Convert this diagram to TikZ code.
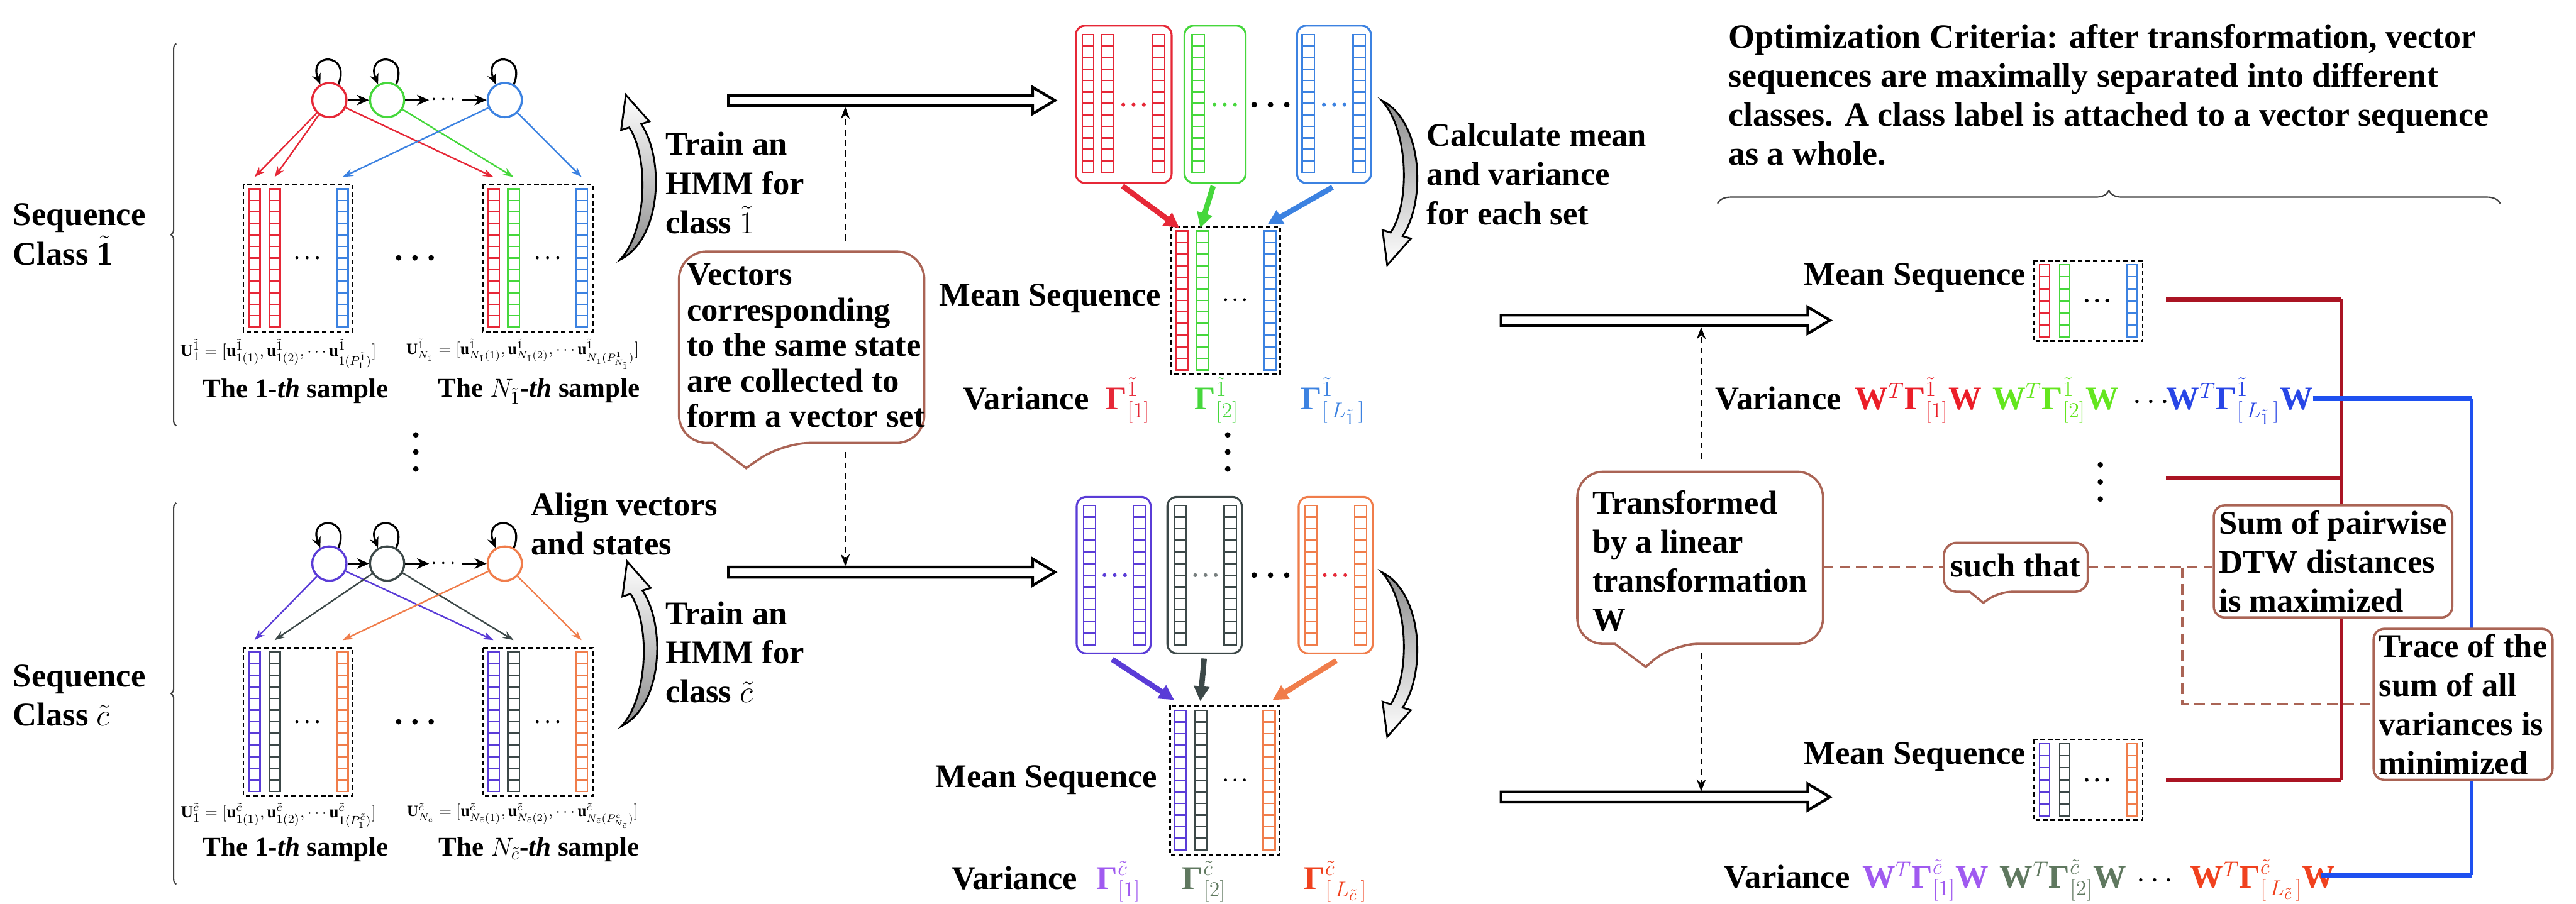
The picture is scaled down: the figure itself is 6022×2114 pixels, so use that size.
\documentclass[tikz,border=0pt]{standalone}
\usepackage{fontspec}
\setmainfont{Liberation Serif}
\usepackage{amsmath}
\usetikzlibrary{arrows.meta,decorations.pathreplacing,calc}

\definecolor{cR}{RGB}{230,40,55}
\definecolor{cG}{RGB}{70,215,60}
\definecolor{cB}{RGB}{60,130,225}
\definecolor{cP}{RGB}{90,60,215}
\definecolor{cK}{RGB}{60,72,72}
\definecolor{cO}{RGB}{240,125,75}
\definecolor{brn}{RGB}{170,100,85}
\definecolor{dred}{RGB}{170,20,35}
\definecolor{lblue}{RGB}{30,80,240}
\definecolor{vR}{RGB}{235,30,40}
\definecolor{vG}{RGB}{100,230,30}
\definecolor{vB}{RGB}{40,70,230}
\definecolor{vP}{RGB}{160,90,240}
\definecolor{vK}{RGB}{95,120,95}
\definecolor{vO}{RGB}{240,65,30}

\newcommand{\Gam}{\text{\bfseries Γ}}

\tikzset{
  colline/.style={line width=1pt},
  lab/.style={font=\fontsize{22}{26}\selectfont\bfseries, inner sep=0pt},
  olab/.style={font=\fontsize{22.6}{26}\selectfont\bfseries, inner sep=0pt},
  clab/.style={font=\fontsize{22}{23.6}\selectfont\bfseries, inner sep=0pt, align=left},
  slab/.style={font=\fontsize{18}{20}\selectfont\bfseries, inner sep=0pt},
  ulab/.style={font=\fontsize{10.5}{12}\selectfont, inner sep=0pt},
  ulabb/.style={font=\fontsize{11.3}{12}\selectfont, inner sep=0pt},
  st/.style={circle, minimum size=0.8cm, line width=1.4pt, inner sep=0pt},
  loopar/.style={line width=1.3pt, -{Stealth[length=7pt,width=6pt]}},
  hmmar/.style={line width=1.6pt, -{Stealth[length=8pt,width=7pt]}},
  emar/.style={line width=1pt, -{Stealth[length=7pt,width=5pt]}},
  dbox/.style={line width=1.2pt, dash pattern=on 3pt off 2pt},
  setbox/.style={line width=1.3pt, rounded corners=0.22cm},
  meanar/.style={line width=3.6pt, -{Triangle[length=10pt,width=10pt]}},
  blockar/.style={line width=1.8pt, fill=white, line join=miter},
  curvar/.style={line width=1.2pt, line join=miter},
  vdash/.style={line width=1pt, dash pattern=on 4pt off 3pt, -{Stealth[length=8pt,width=6pt]}},
  brdash/.style={brn, line width=1.6pt, dash pattern=on 7pt off 4pt},
  cobord/.style={brn, line width=1.5pt},
  brc/.style={line width=0.9pt, black!75, decorate},
}

% column of cells: name, x1, x2, ytop, ybot, ncells, colour
\newcommand{\vcol}[7]{%
  \draw[colline,#7] (#2,#4) rectangle (#3,#5);
  \pgfmathsetmacro{\cellh}{(#5-#4)/#6}
  \foreach \k in {1,...,#6}{\ifnum\k<#6 \draw[colline,#7] (#2,{#4+\k*\cellh}) -- (#3,{#4+\k*\cellh});\fi}
  \coordinate (#1) at ({(#2+#3)/2},{#4-28});
}
% three horizontal dots: x y spacing radius colour
\newcommand{\tdots}[5]{%
  \fill[#5] ({#1-#3},#2) circle[radius=#4] (#1,#2) circle[radius=#4] ({#1+#3},#2) circle[radius=#4];}
% three vertical dots
\newcommand{\vtdots}[3]{%
  \fill (#1,#2) circle[radius=6.5] (#1,{#2+40}) circle[radius=6.5] (#1,{#2+80}) circle[radius=6.5];}
% hollow block arrow: x1 x2 y
\newcommand{\blockarrow}[3]{%
  \draw[blockar] (#1,{#3-12}) -- ({#2-52},{#3-12}) -- ({#2-52},{#3-31}) -- (#2,#3) -- ({#2-52},{#3+31}) -- ({#2-52},{#3+12}) -- (#1,{#3+12}) -- cycle;}
% curved tapering arrow: cx cy s shading
\newcommand{\curv}[4]{%
  \draw[curvar,#4] ({#1-20},{#2+(#3)*192}) .. controls ({#1+75},{#2+(#3)*145}) and ({#1+85},{#2-(#3)*40}) .. ({#1+29},{#2-(#3)*125})
    -- ({#1+48},{#2-(#3)*131}) -- ({#1-7},{#2-(#3)*193}) -- ({#1-18},{#2-(#3)*111}) -- ({#1+1},{#2-(#3)*117})
    .. controls ({#1+48},{#2-(#3)*45}) and ({#1+42},{#2+(#3)*125}) .. cycle;}
% callout: name cx cy w h pa pb tipoffset radius
\newcommand{\callbox}[9]{%
  \node[minimum width=#4*0.01cm, minimum height=#5*0.01cm, inner sep=0pt] (#1) at (#2,#3) {};
  \draw[cobord] ($(#1.south west)+(#6,0)$) [rounded corners=#9] -- (#1.south west) -- (#1.north west) -- (#1.north east) -- (#1.south east) -- ($(#1.south west)+(#7,0)$) [sharp corners] -- ($(#1.south west)+#8$) -- cycle;}

\begin{document}
\begin{tikzpicture}[x=0.01cm, y=-0.01cm]
\useasboundingbox (0,0) rectangle (6022,2114);
\fill[white] (0,0) rectangle (6022,2114);

% ================= LEFT: class 1 =================
\draw[brc, decoration={brace, amplitude=0.12cm}] (412,996) -- (412,102);
\node[lab, align=left, anchor=west] (seq1) at (30,548) {Sequence\\Class $\tilde{\mathbf{1}}$};

\node[st, draw=cR] (r1) at (770,234) {};
\node[st, draw=cG] (g1) at (905,234) {};
\node[inner sep=1pt, font=\fontsize{14}{14}\selectfont] (rd1) at (1041,234) {$\cdots$};
\node[st, draw=cB] (b1) at (1180,234) {};
\foreach \n in {r1,g1,b1}{\draw[loopar] (\n.60) .. controls +(30,-75) and +(-30,-75) .. (\n.120);}
\draw[hmmar] (r1) -- (g1);
\draw[hmmar] (g1) -- (rd1);
\draw[hmmar] (rd1) -- (b1);

\draw[dbox] (569,431) rectangle (824,775);
\draw[dbox] (1128,431) rectangle (1386,775);
\vcol{s1a}{582}{608}{442}{765}{12}{cR}
\vcol{s1b}{629}{655}{442}{765}{12}{cR}
\vcol{s1c}{788}{814}{442}{765}{12}{cB}
\vcol{s2a}{1140}{1167}{442}{765}{12}{cR}
\vcol{s2b}{1187}{1214}{442}{765}{12}{cG}
\vcol{s2c}{1346}{1373}{442}{765}{12}{cB}
\tdots{718}{603}{24}{3.5}{black}
\tdots{1280}{603}{24}{3.5}{black}
\tdots{970}{603}{38}{6.5}{black}

\draw[emar, cR] (r1) -- (s1a);
\draw[emar, cR] (r1) -- (s1b);
\draw[emar, cR] (r1) -- (s2a);
\draw[emar, cG] (g1) -- (s2b);
\draw[emar, cB] (b1) -- (s1c);
\draw[emar, cB] (b1) -- (s2c);

\node[ulabb] (u1) at (651,828) {$\mathbf{U}^{\tilde 1}_1=[\mathbf{u}^{\tilde 1}_{1(1)},\mathbf{u}^{\tilde 1}_{1(2)},\cdots\mathbf{u}^{\tilde 1}_{1(P^{\tilde 1}_1)}]$};
\node[ulab] (u2) at (1222,828) {$\mathbf{U}^{\tilde 1}_{N_{\tilde 1}}=[\mathbf{u}^{\tilde 1}_{N_{\tilde 1}(1)},\mathbf{u}^{\tilde 1}_{N_{\tilde 1}(2)},\cdots\mathbf{u}^{\tilde 1}_{N_{\tilde 1}(P^{\tilde 1}_{N_{\tilde 1}})}]$};
\node[slab] (t1) at (691,915) {The 1-\textit{th} sample};
\node[slab] (t2) at (1260,915) {The $N_{\tilde 1}$-\textit{th} sample};

\vtdots{972}{1017}{}

% ================= LEFT: class c =================
\draw[brc, decoration={brace, amplitude=0.12cm}] (412,2068) -- (412,1176);
\node[lab, align=left, anchor=west] (seq2) at (30,1626) {Sequence\\Class $\tilde{c}$};

\node[st, draw=cP] (p2) at (770,1318) {};
\node[st, draw=cK] (k2) at (905,1318) {};
\node[inner sep=1pt, font=\fontsize{14}{14}\selectfont] (rd2) at (1041,1318) {$\cdots$};
\node[st, draw=cO] (o2) at (1180,1318) {};
\foreach \n in {p2,k2,o2}{\draw[loopar] (\n.60) .. controls +(30,-75) and +(-30,-75) .. (\n.120);}
\draw[hmmar] (p2) -- (k2);
\draw[hmmar] (k2) -- (rd2);
\draw[hmmar] (rd2) -- (o2);

\draw[dbox] (569,1515) rectangle (824,1861);
\draw[dbox] (1128,1515) rectangle (1386,1861);
\vcol{c1a}{582}{608}{1525}{1851}{12}{cP}
\vcol{c1b}{629}{655}{1525}{1851}{12}{cK}
\vcol{c1c}{788}{814}{1525}{1851}{12}{cO}
\vcol{c2a}{1140}{1167}{1525}{1851}{12}{cP}
\vcol{c2b}{1187}{1214}{1525}{1851}{12}{cK}
\vcol{c2c}{1346}{1373}{1525}{1851}{12}{cO}
\tdots{718}{1688}{24}{3.5}{black}
\tdots{1280}{1688}{24}{3.5}{black}
\tdots{970}{1688}{38}{6.5}{black}

\draw[emar, cP] (p2) -- (c1a);
\draw[emar, cP] (p2) -- (c2a);
\draw[emar, cK] (k2) -- (c1b);
\draw[emar, cK] (k2) -- (c2b);
\draw[emar, cO] (o2) -- (c1c);
\draw[emar, cO] (o2) -- (c2c);

\node[ulabb] (u3) at (651,1908) {$\mathbf{U}^{\tilde c}_1=[\mathbf{u}^{\tilde c}_{1(1)},\mathbf{u}^{\tilde c}_{1(2)},\cdots\mathbf{u}^{\tilde c}_{1(P^{\tilde c}_1)}]$};
\node[ulab] (u4) at (1222,1908) {$\mathbf{U}^{\tilde c}_{N_{\tilde c}}=[\mathbf{u}^{\tilde c}_{N_{\tilde c}(1)},\mathbf{u}^{\tilde c}_{N_{\tilde c}(2)},\cdots\mathbf{u}^{\tilde c}_{N_{\tilde c}(P^{\tilde c}_{N_{\tilde c}})}]$};
\node[slab] (t3) at (691,1986) {The 1-\textit{th} sample};
\node[slab] (t4) at (1260,1986) {The $N_{\tilde c}$-\textit{th} sample};

\node[lab, align=left, anchor=west] (align) at (1241,1225) {Align vectors\\and states};

% ================= curved arrows + texts =================
\curv{1470}{415}{1}{top color=white, bottom color=black!45}
\curv{1473}{1506}{1}{top color=white, bottom color=black!45}
\curv{3250}{427}{-1}{top color=black!45, bottom color=white}
\curv{3250}{1530}{-1}{top color=black!45, bottom color=white}

\node[lab, align=left, anchor=west] (train1) at (1555,428) {Train an\\HMM for\\class $\tilde{1}$};
\node[lab, align=left, anchor=west] (train2) at (1555,1525) {Train an\\HMM for\\class $\tilde{c}$};
\node[lab, align=left, anchor=west] (calc) at (3335,407) {Calculate mean\\and variance\\for each set};

% callout: vectors
\callbox{vcb}{1874}{812}{572}{446}{79}{242}{(157,59)}{0.65cm}
\node[clab, anchor=west] (vct) at (1605,808) {Vectors\\corresponding\\to the same state\\are collected to\\form a vector set};

\blockarrow{1703}{2466}{235}
\blockarrow{1703}{2466}{1338}
\coordinate (da1) at (1976,563); \coordinate (da2) at (1976,250);
\coordinate (db1) at (1976,1057); \coordinate (db2) at (1976,1324);
\draw[vdash] (da1) -- (da2);
\draw[vdash] (db1) -- (db2);

% ================= MIDDLE: sets for class 1 =================
\draw[setbox, cR] (2515,60) rectangle (2739,428);
\draw[setbox, cG] (2769,60) rectangle (2912,428);
\draw[setbox, cB] (3032,60) rectangle (3205,428);
\vcol{ta}{2530}{2557}{81}{403}{12}{cR}
\vcol{tb}{2575}{2603}{81}{403}{12}{cR}
\vcol{tc}{2695}{2723}{81}{403}{12}{cR}
\vcol{td}{2787}{2815}{81}{403}{12}{cG}
\vcol{te}{3044}{3073}{81}{403}{12}{cB}
\vcol{tf}{3163}{3192}{81}{403}{12}{cB}
\tdots{2650}{245}{24}{4.5}{cR}
\tdots{2863}{245}{24}{4.5}{cG}
\tdots{2970}{245}{38}{6.5}{black}
\tdots{3119}{245}{24}{4.5}{cB}

\draw[dbox] (2737,531) rectangle (2993,875);
\vcol{ma}{2749}{2777}{540}{865}{12}{cR}
\vcol{mb}{2796}{2824}{540}{865}{12}{cG}
\vcol{mc}{2956}{2984}{540}{865}{12}{cB}
\tdots{2887}{701}{22}{3.5}{black}
\coordinate (ra1) at (2624,435); \coordinate (ra2) at (2757,533);
\coordinate (ga1) at (2836,435); \coordinate (ga2) at (2806,533);
\coordinate (ba1) at (3115,438); \coordinate (ba2) at (2963,525);
\draw[meanar, cR] (ra1) -- (ra2);
\draw[meanar, cG] (ga1) -- (ga2);
\draw[meanar, cB] (ba1) -- (ba2);
\node[lab, anchor=east] (mean1) at (2715,698) {Mean Sequence};
\node[lab, anchor=base west] (var1) at (2251,958) {Variance};
\node[lab, anchor=base west, cR] (v11) at (2585,958) {$\Gam^{\tilde 1}_{[1]}$};
\node[lab, anchor=base west, cG] (v12) at (2792,958) {$\Gam^{\tilde 1}_{[2]}$};
\node[lab, anchor=base west, cB] (v13) at (3040,958) {$\Gam^{\tilde 1}_{[\,L_{\tilde 1}\,]}$};

\vtdots{2870}{1017}{}

% ================= MIDDLE: sets for class c =================
\draw[setbox, cP] (2517,1162) rectangle (2690,1528);
\draw[setbox, cK] (2729,1162) rectangle (2903,1528);
\draw[setbox, cO] (3036,1162) rectangle (3209,1528);
\vcol{ba}{2533}{2561}{1182}{1508}{12}{cP}
\vcol{bb}{2649}{2677}{1182}{1508}{12}{cP}
\vcol{bc}{2745}{2773}{1182}{1508}{12}{cK}
\vcol{bd}{2862}{2890}{1182}{1508}{12}{cK}
\vcol{be}{3050}{3078}{1182}{1508}{12}{cO}
\vcol{bf}{3167}{3195}{1182}{1508}{12}{cO}
\tdots{2606}{1345}{24}{4.5}{cP}
\tdots{2818}{1345}{24}{4.5}{cK!70}
\tdots{2970}{1345}{38}{6.5}{black}
\tdots{3121}{1345}{24}{4.5}{cR}

\draw[dbox] (2735,1650) rectangle (2991,1999);
\vcol{na}{2745}{2773}{1661}{1988}{12}{cP}
\vcol{nb}{2793}{2821}{1661}{1988}{12}{cK}
\vcol{nc}{2953}{2981}{1661}{1988}{12}{cO}
\tdots{2887}{1824}{22}{3.5}{black}
\coordinate (pa1) at (2600,1542); \coordinate (pa2) at (2745,1637);
\coordinate (ka1) at (2815,1540); \coordinate (ka2) at (2806,1640);
\coordinate (oa1) at (3124,1545); \coordinate (oa2) at (2975,1637);
\draw[meanar, cP] (pa1) -- (pa2);
\draw[meanar, cK] (ka1) -- (ka2);
\draw[meanar, cO] (oa1) -- (oa2);
\node[lab, anchor=east] (mean2) at (2706,1824) {Mean Sequence};
\node[lab, anchor=base west] (var2) at (2224,2079) {Variance};
\node[lab, anchor=base west, vP] (v21) at (2563,2079) {$\Gam^{\tilde c}_{[1]}$};
\node[lab, anchor=base west, vK] (v22) at (2763,2079) {$\Gam^{\tilde c}_{[2]}$};
\node[lab, anchor=base west, vO] (v23) at (3048,2079) {$\Gam^{\tilde c}_{[\,L_{\tilde c}\,]}$};

% ================= RIGHT =================
\node[olab, align=left, anchor=west] (opt) at (4040,222) {Optimization Criteria: after transformation, vector\\sequences are maximally separated into different\\classes. A class label is attached to a vector sequence\\as a whole.};
\draw[brc, decoration={brace, amplitude=0.3cm}] (4015,476) -- (5845,476);

\blockarrow{3509}{4278}{749}
\blockarrow{3509}{4278}{1864}

% transformed mean (class 1)
\node[lab, anchor=east] (mean3) at (4736,649) {Mean Sequence};
\draw[dbox] (4754,609) rectangle (5009,798);
\vcol{ra}{4768}{4791}{619}{788}{6}{cR}
\vcol{rb}{4815}{4838}{619}{788}{6}{cG}
\vcol{rc}{4973}{4996}{619}{788}{6}{cB}
\tdots{4902}{703}{24}{4.5}{black}
\node[lab, anchor=base west] (var3) at (4010,958) {Variance};
\node[lab, anchor=base west, vR] (w11) at (4336,958) {$\mathbf{W}^{T}\Gam^{\tilde 1}_{[1]}\mathbf{W}$};
\node[lab, anchor=base west, vG] (w12) at (4657,958) {$\mathbf{W}^{T}\Gam^{\tilde 1}_{[2]}\mathbf{W}$};
\node[lab, anchor=base west] (w1d) at (4985,958) {$\cdots$};
\node[lab, anchor=base west, vB] (w13) at (5064,958) {$\mathbf{W}^{T}\Gam^{\tilde 1}_{[\,L_{\tilde 1}\,]}\mathbf{W}$};

\vtdots{4910}{1087}{}

% transformed mean (class c)
\node[lab, anchor=east] (mean4) at (4736,1769) {Mean Sequence};
\draw[dbox] (4754,1729) rectangle (5009,1918);
\vcol{rd}{4768}{4791}{1739}{1908}{6}{cP}
\vcol{re}{4815}{4838}{1739}{1908}{6}{cK}
\vcol{rf}{4973}{4996}{1739}{1908}{6}{cO}
\tdots{4902}{1824}{24}{4.5}{black}
\node[lab, anchor=base west] (var4) at (4030,2076) {Variance};
\node[lab, anchor=base west, vP] (w21) at (4353,2076) {$\mathbf{W}^{T}\Gam^{\tilde c}_{[1]}\mathbf{W}$};
\node[lab, anchor=base west, vK] (w22) at (4674,2076) {$\mathbf{W}^{T}\Gam^{\tilde c}_{[2]}\mathbf{W}$};
\node[lab, anchor=base west] (w2d) at (4995,2076) {$\cdots$};
\node[lab, anchor=base west, vO] (w23) at (5119,2076) {$\mathbf{W}^{T}\Gam^{\tilde c}_{[\,L_{\tilde c}\,]}\mathbf{W}$};

% red and blue connection lines
\coordinate (rl1) at (5064,700); \coordinate (rl2) at (5064,1118); \coordinate (rl3) at (5064,1824);
\coordinate (rv1) at (5474,700); \coordinate (rv2) at (5474,1118); \coordinate (rv3) at (5474,1824);
\draw[dred, line width=1.8pt] (rv1) -- (rv3);
\draw[dred, line width=3pt] (rl1) -- (rv1);
\draw[dred, line width=3pt] (rl2) -- (rv2);
\draw[dred, line width=3pt] (rl3) -- (rv3);
\coordinate (bl1) at (5407,932); \coordinate (bv1) at (5778,932);
\coordinate (bv2) at (5778,2047); \coordinate (bl2) at (5427,2047);
\draw[lblue, line width=1.8pt] (bv1) -- (bv2);
\draw[lblue, line width=3pt] (bl1) -- (bv1);
\draw[lblue, line width=3pt] (bv2) -- (bl2);

% callouts on the right
\callbox{tfb}{3974.5}{1304.5}{573}{401}{88}{222}{(160,54)}{0.6cm}
\node[lab, align=left, anchor=west] (tft) at (3722,1312) {Transformed\\by a linear\\transformation\\W};
\callbox{stb}{4712.5}{1326.5}{335}{113}{60}{130}{(92,26)}{0.3cm}
\node[lab] (stt) at (4712,1322) {such that};

\node[lab, draw=brn, line width=1.5pt, fill=white, rounded corners=0.25cm, align=left,
      minimum width=5.57cm, minimum height=2.62cm, inner sep=2pt] (sp) at (5454,1313)
      {Sum of pairwise\\DTW distances\\is maximized};
\node[lab, draw=brn, line width=1.5pt, fill=white, rounded corners=0.25cm, align=left,
      minimum width=4.18cm, minimum height=3.53cm, inner sep=2pt] (tr) at (5758,1647)
      {Trace of the\\sum of all\\variances is\\minimized};

\coordinate (br) at (5102,1327);
\draw[brdash] (tfb.east |- stb.west) -- (stb.west);
\draw[brdash] (stb.east) -- (sp.west |- stb.east);
\draw[brdash] (br) |- (tr.west);

\coordinate (dc1) at (3977,1073); \coordinate (dc2) at (3977,765);
\coordinate (dd1) at (3977,1528); \coordinate (dd2) at (3977,1851);
\draw[vdash] (dc1) -- (dc2);
\draw[vdash] (dd1) -- (dd2);
\end{tikzpicture}
\end{document}
